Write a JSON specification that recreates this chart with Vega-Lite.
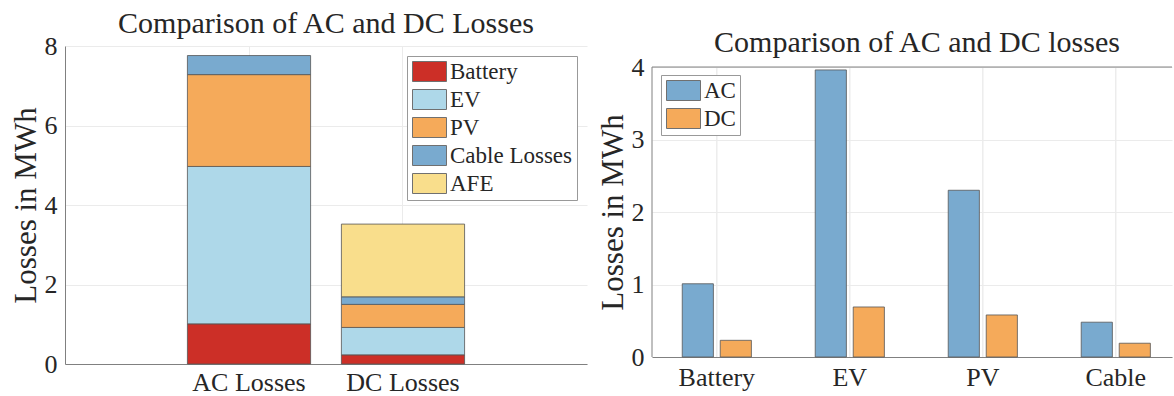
{
  "$schema": "https://vega.github.io/schema/vega-lite/v6.json",
  "background": "white",
  "padding": {"left": 10, "top": 9, "right": 0, "bottom": 0},
  "spacing": 10,
  "resolve": {"scale": {"color": "independent"}, "legend": {"color": "independent"}},
  "config": {
    "font": "Liberation Serif",
    "view": {"stroke": null},
    "axis": {
      "labelFont": "Liberation Serif",
      "titleFont": "Liberation Serif",
      "labelColor": "#262626",
      "titleColor": "#262626",
      "titleFontWeight": "normal",
      "domainColor": "#808080",
      "gridColor": "#ebebeb",
      "ticks": false,
      "labelPadding": 8,
      "labelFontSize": 26,
      "titleFontSize": 31
    },
    "title": {"font": "Liberation Serif", "fontSize": 30, "fontWeight": "normal", "color": "#262626"},
    "legend": {
      "title": null,
      "labelFont": "Liberation Serif",
      "labelColor": "#262626",
      "labelFontSize": 23,
      "symbolType": "M-1,-1L2.4,-1L2.4,1L-1,1Z",
      "symbolSize": 400,
      "symbolStrokeColor": "#707070",
      "symbolStrokeWidth": 1,
      "symbolOpacity": 1,
      "labelOffset": 16,
      "rowPadding": 3,
      "padding": 4,
      "strokeColor": "#999999",
      "fillColor": "white"
    }
  },
  "hconcat": [
    {
      "width": 522,
      "height": 318,
      "title": {"text": "Comparison of AC and DC Losses", "offset": -6},
      "data": {
        "values": [
          {"system": "AC Losses", "component": "Battery", "loss": 1.01},
          {"system": "AC Losses", "component": "EV", "loss": 3.96},
          {"system": "AC Losses", "component": "PV", "loss": 2.31},
          {"system": "AC Losses", "component": "Cable Losses", "loss": 0.48},
          {"system": "DC Losses", "component": "Battery", "loss": 0.23},
          {"system": "DC Losses", "component": "EV", "loss": 0.69},
          {"system": "DC Losses", "component": "PV", "loss": 0.58},
          {"system": "DC Losses", "component": "Cable Losses", "loss": 0.19},
          {"system": "DC Losses", "component": "AFE", "loss": 1.83}
        ]
      },
      "transform": [
        {"calculate": "indexof(['Battery','EV','PV','Cable Losses','AFE'], datum.component)", "as": "idx"}
      ],
      "mark": {"type": "bar", "stroke": "#555555", "strokeWidth": 0.8},
      "encoding": {
        "x": {
          "field": "system",
          "type": "nominal",
          "sort": ["AC Losses", "DC Losses"],
          "scale": {"paddingInner": 0.2, "paddingOuter": 0.795, "align": 0.5},
          "axis": {"title": null, "labelAngle": 0, "grid": true, "bandPosition": 0.5, "labelPadding": 5}
        },
        "y": {
          "field": "loss",
          "type": "quantitative",
          "stack": "zero",
          "scale": {"domain": [0, 8], "nice": false},
          "axis": {"title": "Losses in MWh", "values": [0, 2, 4, 6, 8], "format": "d", "grid": true, "titlePadding": 2}
        },
        "color": {
          "field": "component",
          "type": "nominal",
          "sort": ["Battery", "EV", "PV", "Cable Losses", "AFE"],
          "scale": {
            "domain": ["Battery", "EV", "PV", "Cable Losses", "AFE"],
            "range": ["#CC2F27", "#AED8E9", "#F5AA5A", "#79AACF", "#F9DE8C"]
          },
          "legend": {"orient": "none", "legendX": 342, "legendY": 10}
        },
        "order": {"field": "idx", "type": "quantitative"}
      }
    },
    {
      "width": 520,
      "height": 311,
      "title": {"text": "Comparison of AC and DC losses", "offset": -12, "dx": 5},
      "data": {
        "values": [
          {"category": "Battery", "type": "AC", "loss": 1.01},
          {"category": "Battery", "type": "DC", "loss": 0.23},
          {"category": "EV", "type": "AC", "loss": 3.96},
          {"category": "EV", "type": "DC", "loss": 0.69},
          {"category": "PV", "type": "AC", "loss": 2.3},
          {"category": "PV", "type": "DC", "loss": 0.58},
          {"category": "Cable", "type": "AC", "loss": 0.48},
          {"category": "Cable", "type": "DC", "loss": 0.19}
        ]
      },
      "resolve": {"scale": {"x": "independent"}, "axis": {"x": "independent"}},
      "layer": [
        {
          "layer": [
            {
              "mark": {"type": "rule", "color": "#ebebeb", "strokeWidth": 1},
              "encoding": {
                "x": {
                  "field": "category",
                  "type": "nominal",
                  "sort": ["Battery", "EV", "PV", "Cable"],
                  "bandPosition": 0.5,
                  "scale": {"type": "band", "paddingInner": 0.48, "paddingOuter": 0.195, "align": 0.583}
                },
                "y": {"datum": 0, "type": "quantitative"},
                "y2": {"datum": 4}
              }
            },
            {
              "mark": {"type": "bar", "stroke": "#555555", "strokeWidth": 0.8},
              "encoding": {
                "x": {
                  "field": "category",
                  "type": "nominal",
                  "sort": ["Battery", "EV", "PV", "Cable"],
                  "scale": {"type": "band", "paddingInner": 0.48, "paddingOuter": 0.195, "align": 0.583},
                  "axis": {
                    "title": null,
                    "labelAngle": 0,
                    "grid": false,
                    "bandPosition": 0.5,
                    "labelAlign": "center",
                    "labelBaseline": "top",
                    "labelPadding": 7,
                    "labelFlush": false
                  }
                },
                "xOffset": {
                  "field": "type",
                  "type": "nominal",
                  "sort": ["AC", "DC"],
                  "scale": {"paddingInner": 0.18, "paddingOuter": 0}
                },
                "y": {
                  "field": "loss",
                  "type": "quantitative",
                  "scale": {"domain": [0, 4.29], "nice": false, "zero": true},
                  "axis": {"title": "Losses in MWh", "values": [0, 1, 2, 3, 4], "format": "d", "grid": true, "domain": false, "titlePadding": 2, "titleY": 166}
                },
                "color": {
                  "field": "type",
                  "type": "nominal",
                  "sort": ["AC", "DC"],
                  "scale": {"domain": ["AC", "DC"], "range": ["#79AACF", "#F5AA5A"]},
                  "legend": {"orient": "none", "legendX": 9, "legendY": 29}
                }
              }
            }
          ]
        },
        {
          "data": {"values": [{"edge": 0}]},
          "mark": {"type": "rule", "color": "#808080", "strokeWidth": 1},
          "encoding": {
            "x": {"field": "edge", "type": "quantitative", "scale": {"domain": [0, 1]}, "axis": null},
            "y": {"datum": 0, "type": "quantitative"},
            "y2": {"datum": 4}
          }
        },
        {
          "data": {"values": [{"top": 4}]},
          "mark": {"type": "rule", "color": "#808080", "strokeWidth": 1},
          "encoding": {"y": {"field": "top", "type": "quantitative"}}
        }
      ]
    }
  ]
}
